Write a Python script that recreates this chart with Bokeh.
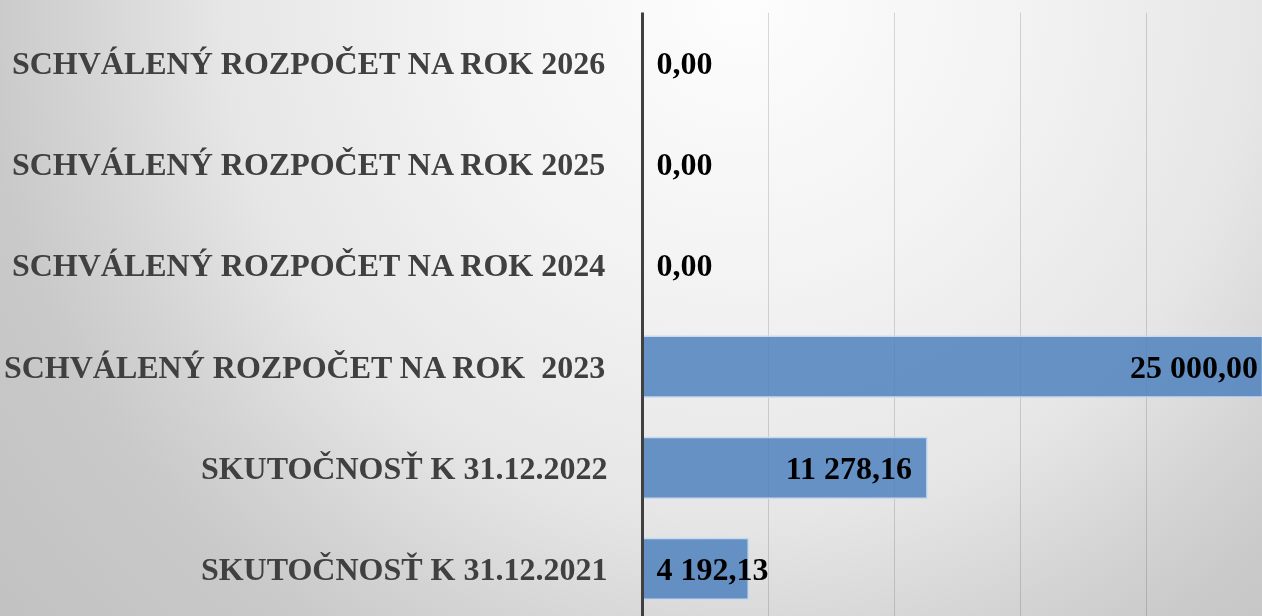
from bokeh.plotting import figure
from bokeh.models import Range1d, FixedTicker, ColumnDataSource, InlineStyleSheet
from bokeh.core.properties import value
from bokeh.embed import file_html
from bokeh.resources import INLINE

# ---- data (bottom to top) ----
categories = [
    "SKUTOČNOSŤ K 31.12.2021",
    "SKUTOČNOSŤ K 31.12.2022",
    "SCHVÁLENÝ ROZPOČET NA ROK \u00a02023",
    "SCHVÁLENÝ ROZPOČET NA ROK 2024",
    "SCHVÁLENÝ ROZPOČET NA ROK 2025",
    "SCHVÁLENÝ ROZPOČET NA ROK 2026",
]
amounts = [4192.13, 11278.16, 25000.00, 0.00, 0.00, 0.00]
grid_ticks = [5000, 10000, 15000, 20000]


def fmt(v):
    return f"{v:,.2f}".replace(",", " ").replace(".", ",")


labels = [fmt(v) for v in amounts]
ypos = [i + 0.5 for i in range(len(categories))]

W, H = 1262, 616
LEFT = 640
X_END = 24585
FONT = "Liberation Serif"
FS = 32

css = InlineStyleSheet(css=""":host {
  position: fixed !important;
  left: 0px !important;
  top: 0px !important;
  margin: 0 !important;
  background: radial-gradient(circle at 740px 0px, #fdfdfd 0px, #f3f3f3 280px,
      #e6e6e6 520px, #d4d4d4 660px, #c9c9c9 760px, #c2c2c2 950px);
}""")

p = figure(width=W, height=H, output_backend="svg", toolbar_location=None,
           x_range=Range1d(0, X_END), y_range=Range1d(0.03, 6.0),
           min_border_left=LEFT, min_border_right=0, min_border_top=12,
           min_border_bottom=0, stylesheets=[css])
p.background_fill_color = None
p.border_fill_color = None
p.outline_line_color = None

# grid
p.ygrid.visible = False
p.xgrid.ticker = FixedTicker(ticks=grid_ticks)
p.xgrid.grid_line_color = "#000000"
p.xgrid.grid_line_alpha = 0.14
p.xgrid.grid_line_width = 1

# axes
p.xaxis.visible = False
ya = p.yaxis[0]
ya.ticker = FixedTicker(ticks=ypos)
ya.major_label_overrides = {y: c for y, c in zip(ypos, categories)}
ya.major_tick_line_color = None
ya.minor_tick_line_color = None
ya.axis_line_color = "#404040"
ya.axis_line_width = 3
ya.major_label_standoff = 29
ya.major_label_text_font = FONT
ya.major_label_text_font_style = "bold"
ya.major_label_text_font_size = f"{FS}px"
ya.major_label_text_color = "#404040"

# bars
bar_src = ColumnDataSource(dict(
    y=[y for y, v in zip(ypos, amounts) if v > 0],
    right=[v for v in amounts if v > 0],
))
p.hbar(y="y", right="right", left=0, height=0.6, source=bar_src,
       fill_color="#4f81bd", fill_alpha=0.85,
       line_color="#c9d9ee", line_width=1.5)

# value labels: inside end if they fit, otherwise at the base
px_per_unit = (W - LEFT) / X_END
lx, ly, lt, la, lo = [], [], [], [], []
for y, v, t in zip(ypos, amounts, labels):
    est_w = len(t) * FS * 0.45
    if v * px_per_unit > est_w + 40:
        lx.append(v); la.append("right"); lo.append(-15)
    else:
        lx.append(0); la.append("left"); lo.append(14)
    ly.append(y); lt.append(t)

lab_src = ColumnDataSource(dict(x=lx, y=ly, text=lt, align=la, off=lo))
p.text(x="x", y="y", text="text", source=lab_src, text_align="align",
       x_offset="off", text_baseline="middle",
       text_font=value(FONT), text_font_style="bold",
       text_font_size=f"{FS}px", text_color="#000000")

open("out.html", "w").write(file_html(p, INLINE))
